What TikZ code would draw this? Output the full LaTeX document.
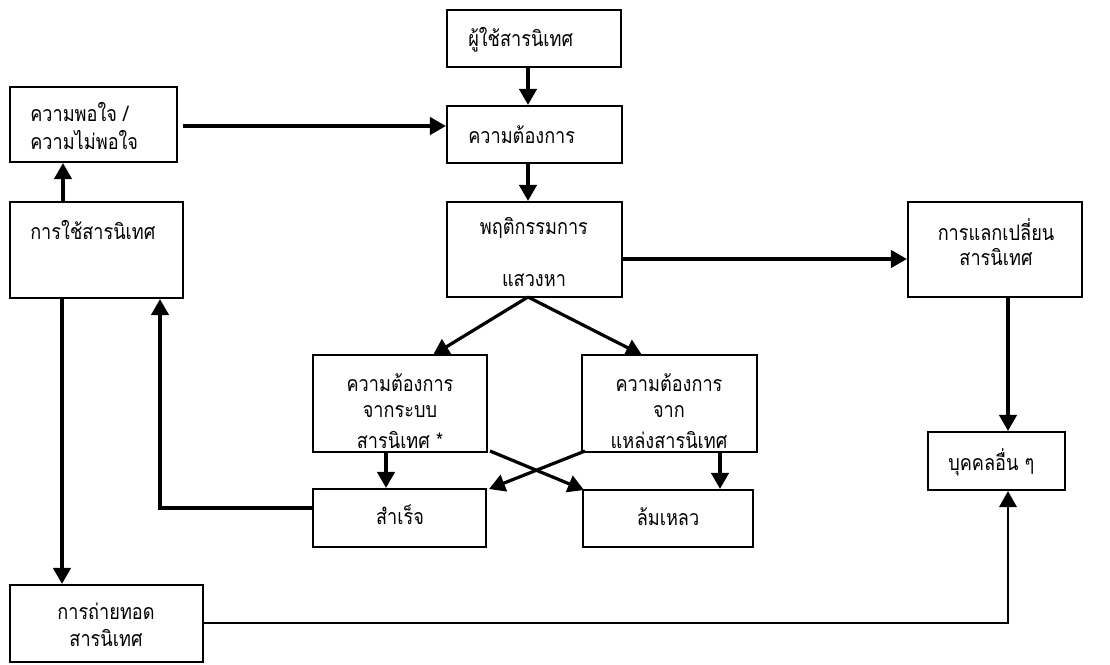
\documentclass[tikz,border=0pt]{standalone}
\usepackage{fontspec}
\newfontfamily\thai[Script=Thai,FakeStretch=0.85]{Loma}
\usetikzlibrary{fit,arrows.meta,calc}
\begin{document}
\begin{tikzpicture}[x=0.75pt,y=-0.75pt,
  box/.style={draw,line width=1.6pt,inner sep=0pt,rectangle},
  txt/.style={inner sep=0pt,font=\thai\fontsize{16}{19}\selectfont},
  arr/.style={line width=2.4pt,-{Triangle[length=12pt,width=13pt]}},
  thinarr/.style={line width=1.8pt,-{Triangle[length=12pt,width=13pt]}}]
\useasboundingbox (0,0) rectangle (1110,664);
% boxes
\node[box,fit={(447,10) (621,67)}] (user) {};
\node[box,fit={(447,106) (622,163)}] (need) {};
\node[box,fit={(447,202) (622,297)}] (behav) {};
\node[box,fit={(10,87) (177,162)}] (sat) {};
\node[box,fit={(10,202) (183,298)}] (use) {};
\node[box,fit={(908,202) (1082,297)}] (exch) {};
\node[box,fit={(928,432) (1065,490)}] (others) {};
\node[box,fit={(313,355) (487,452)}] (sysneed) {};
\node[box,fit={(582,355) (757,452)}] (srcneed) {};
\node[box,fit={(313,489) (486,547)}] (success) {};
\node[box,fit={(583,490) (753,547)}] (fail) {};
\node[box,fit={(10,585) (203,662)}] (transfer) {};
% texts
\node[txt,anchor=west] (userT) at (468,40) {ผู้ใช้สารนิเทศ};
\node[txt,anchor=west] (needT) at (468,135) {ความต้องการ};
\node[txt] (behavT1) at (534,228) {พฤติกรรมการ};
\node[txt] (behavT2) at (534,280) {แสวงหา};
\node[txt,anchor=west] (satT1) at (30,112) {ความพอใจ /};
\node[txt,anchor=west] (satT2) at (30,140) {ความไม่พอใจ};
\node[txt,anchor=west] (useT) at (30,230) {การใช้สารนิเทศ};
\node[txt] (exchT1) at (996,230) {การแลกเปลี่ยน};
\node[txt] (exchT2) at (996,257) {สารนิเทศ};
\node[txt,anchor=west] (othersT) at (948,462) {บุคคลอื่น ๆ};
\node[txt] (sysT1) at (400,383) {ความต้องการ};
\node[txt] (sysT2) at (400,412) {จากระบบ};
\node[txt] (sysT3) at (400,440) {สารนิเทศ *};
\node[txt] (srcT1) at (669,383) {ความต้องการ};
\node[txt] (srcT2) at (669,412) {จาก};
\node[txt] (srcT3) at (669,440) {แหล่งสารนิเทศ};
\node[txt] (successT) at (400,515) {สำเร็จ};
\node[txt] (failT) at (668,517) {ล้มเหลว};
\node[txt] (transT1) at (106,611) {การถ่ายทอด};
\node[txt] (transT2) at (106,638) {สารนิเทศ};
% helper coordinates
\coordinate (c528) at (528,0);
\coordinate (c63) at (63,0);
\coordinate (c62) at (62,0);
\coordinate (c160) at (160,0);
\coordinate (c386) at (386,0);
\coordinate (c720) at (720,0);
\coordinate (c1008) at (1008,0);
\coordinate (y126) at (0,126);
\coordinate (y259) at (0,259);
\coordinate (y508) at (0,508);
\coordinate (y623) at (0,623);
\coordinate (bs) at (528,297);
\coordinate (satout) at (183,126);
\coordinate (corner1) at (160,508);
\coordinate (corner2) at (1008,623);
\coordinate (sysin) at (433,355);
\coordinate (srcin) at (642,355);
\coordinate (x1s) at (490,451);
\coordinate (x1e) at (584,490);
\coordinate (x2s) at (585,451);
\coordinate (x2e) at (489,489);
% connectors
\draw[arr] (user.south -| c528) -- (need.north -| c528);
\draw[arr] (need.south -| c528) -- (behav.north -| c528);
\draw[arr] (satout) -- (need.west |- y126);
\draw[arr] (use.north -| c63) -- (sat.south -| c63);
\draw[arr] (behav.east |- y259) -- (exch.west |- y259);
\draw[arr] (exch.south -| c1008) -- (others.north -| c1008);
\draw[arr] (bs) -- (sysin);
\draw[arr] (bs) -- (srcin);
\draw[arr] (sysneed.south -| c386) -- (success.north -| c386);
\draw[arr] (srcneed.south -| c720) -- (fail.north -| c720);
\draw[arr] (x1s) -- (x1e);
\draw[arr] (x2s) -- (x2e);
\draw[arr] (success.west |- y508) -- (corner1) -- (use.south -| c160);
\draw[arr] (use.south -| c62) -- (transfer.north -| c62);
\draw[thinarr] (transfer.east |- y623) -- (corner2) -- (others.south -| c1008);
\end{tikzpicture}
\end{document}
